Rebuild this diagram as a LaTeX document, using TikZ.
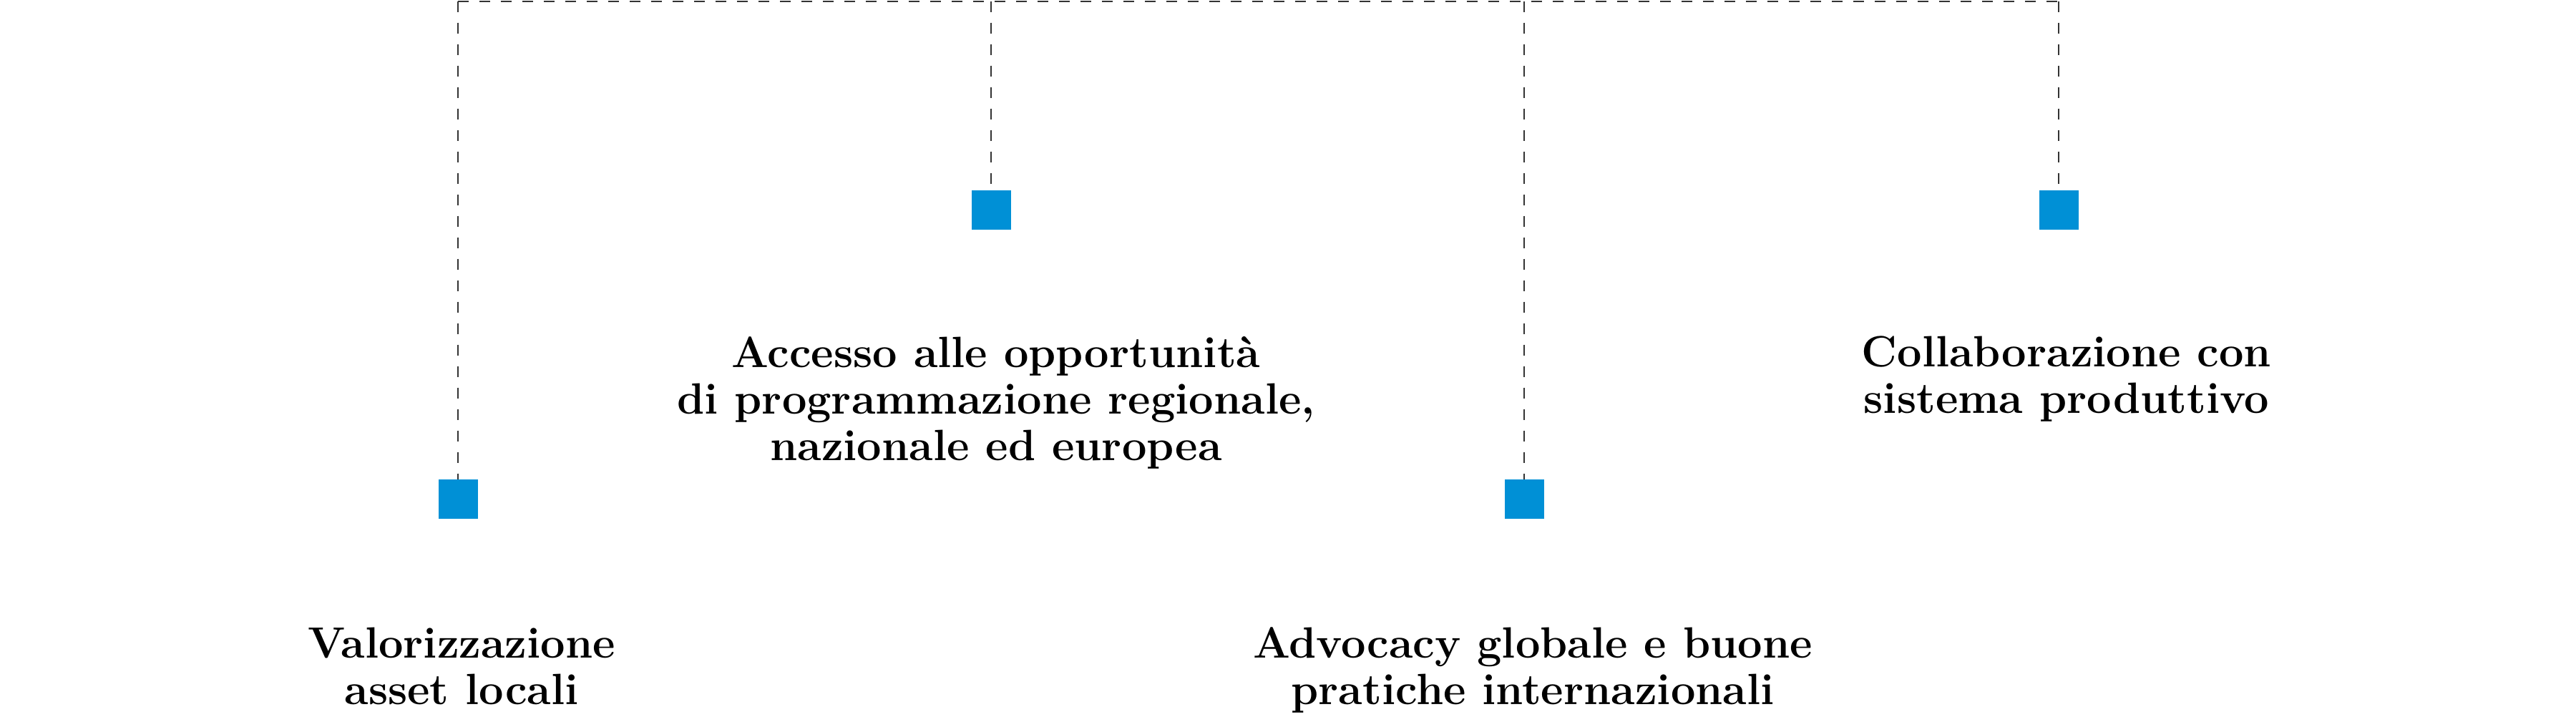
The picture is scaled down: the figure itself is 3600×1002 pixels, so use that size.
\documentclass[tikz,border=0pt]{standalone}
\usepackage{xcolor}
\usepackage{tikz}
\definecolor{sqblue}{RGB}{0,144,214}
\tikzset{
  marker/.style={rectangle,fill=sqblue,inner sep=0pt,minimum size=13.75pt},
  leader/.style={draw=black!80,line width=0.5pt,dash pattern=on 3.75pt off 3.75pt},
  caption/.style={align=center,anchor=base,inner sep=0pt,
    font=\fontsize{15.3}{16.3}\selectfont\bfseries}
}
\begin{document}
\begin{tikzpicture}[x=0.25pt,y=-0.25pt]
\useasboundingbox (0,0) rectangle (3600,1002);

% Markers
\foreach \n/\x/\y in {1/640/698,2/1385/294,3/2130/698,4/2877/294}
  \node[marker] (sq\n) at (\x,\y) {};

% Labels (placed at the baseline of their last line)
\node[caption] (lbl1) at (645,985) {Valorizzazione\\asset locali};
\node[caption] (lbl2) at (1392,644) {Accesso alle opportunità\\di programmazione regionale,\\nazionale ed europea};
\node[caption] (lbl3) at (2142,985) {Advocacy globale e buone\\pratiche internazionali};
\node[caption] (lbl4) at (2888,578) {Collaborazione con\\sistema produttivo};

% Leader lines
\coordinate (top) at (0,1.7);
\draw[leader] (sq1.north |- top) -- (sq4.north |- top);
\foreach \n in {1,...,4}
  \draw[leader] (sq\n.north |- top) -- (sq\n.north);
\end{tikzpicture}
\end{document}
